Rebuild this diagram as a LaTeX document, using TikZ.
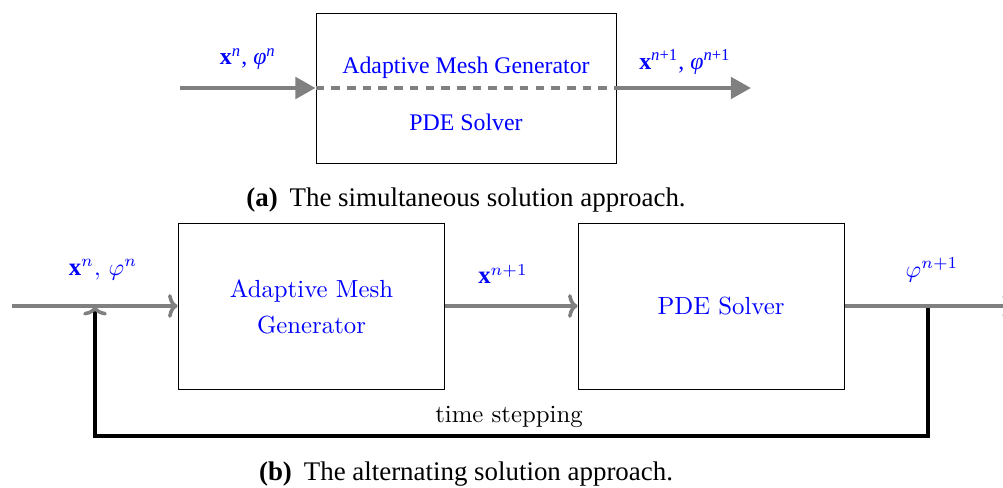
\documentclass[tikz,border=0pt]{standalone}
\usepackage{fontspec}
\setmainfont{Liberation Serif}
\newfontfamily\lmfont{Latin Modern Roman}
\usetikzlibrary{arrows.meta}
\definecolor{flowgray}{RGB}{128,128,128}
\tikzset{
  block/.style={draw=black, line width=0.4pt, inner sep=0pt},
  toptext/.style={text=blue, inner sep=0pt},
  lmtext/.style={font=\lmfont\fontsize{10.4}{12.5}\selectfont, inner sep=0pt},
  topflow/.style={draw=flowgray, line width=1.7pt, -{Triangle[length=8.5pt,width=9pt]}},
  splitline/.style={draw=flowgray, line width=1.3pt, dash pattern=on 3.6pt off 3pt},
  botflow/.style={draw=flowgray, line width=1.3pt, -{To[length=4pt,width=10pt,line width=1.5pt]}},
  loopline/.style={draw=black, line width=1.6pt, -{To[length=4pt,width=10pt,color=flowgray,line width=1.5pt]}},
  captiontext/.style={font=\fontsize{11.3}{14}\selectfont, inner sep=0pt}
}
\begin{document}
\begin{tikzpicture}[x=0.42pt, y=-0.42pt]
\useasboundingbox (0,0) rectangle (1003,488);

% ---- (a) simultaneous approach ----
\node[block, minimum width=126pt, minimum height=63pt] (sim) at (466,88) {};
\node[toptext] (amg) at (466,68) {Adaptive Mesh Generator};
\node[toptext] (pde) at (466,122) {PDE Solver};
\draw[splitline] (sim.west) -- (sim.east);
\coordinate (simin) at (180,88);
\coordinate (simout) at (751,88);
\draw[topflow] (simin) -- (sim.west);
\draw[topflow] (sim.east) -- (simout);
\node[toptext] (inlab) at (248,59) {\textbf{x}\textsuperscript{\textit{n}}, \textit{φ}\textsuperscript{\textit{n}}};
\node[toptext] (outlab) at (685,62) {\textbf{x}\textsuperscript{\textit{n}+1}, \textit{φ}\textsuperscript{\textit{n}+1}};
\node[captiontext] (capa) at (466,200) {\textbf{(a)}\hspace{5pt}The simultaneous solution approach.};

% ---- (b) alternating approach ----
\node[block, minimum width=112.1pt, minimum height=69.7pt] (mesh) at (311.5,306) {};
\node[lmtext, text=blue, align=center] (meshtxt) at (311.5,307) {Adaptive Mesh\\[2.5pt]Generator};
\node[block, minimum width=112.1pt, minimum height=69.7pt] (solver) at (711.5,306) {};
\node[lmtext, text=blue] (solvertxt) at (721,306) {PDE Solver};

\coordinate (start) at (12,306);
\coordinate (join) at (95,306);
\coordinate (tap) at (928,306);
\coordinate (finish) at (1012,306);
\coordinate (loopr) at (928,436);
\coordinate (loopl) at (95,436);

\draw[loopline] (tap) -- (loopr) -- (loopl) -- (join);
\draw[botflow] (start) -- (mesh.west);
\draw[botflow] (mesh.east) -- (solver.west);
\draw[botflow] (solver.east) -- (finish);

\node[lmtext, text=blue] (xnlab) at (103,270) {$\mathbf{x}^n,\,\varphi^n$};
\node[lmtext, text=blue] (xnplab) at (503,274) {$\mathbf{x}^{n+1}$};
\node[lmtext, text=blue] (phiplab) at (932,270) {$\varphi^{n+1}$};
\node[lmtext] (steplab) at (509,417) {time stepping};
\node[captiontext] (capb) at (466,474) {\textbf{(b)}\hspace{5pt}The alternating solution approach.};
\end{tikzpicture}
\end{document}
